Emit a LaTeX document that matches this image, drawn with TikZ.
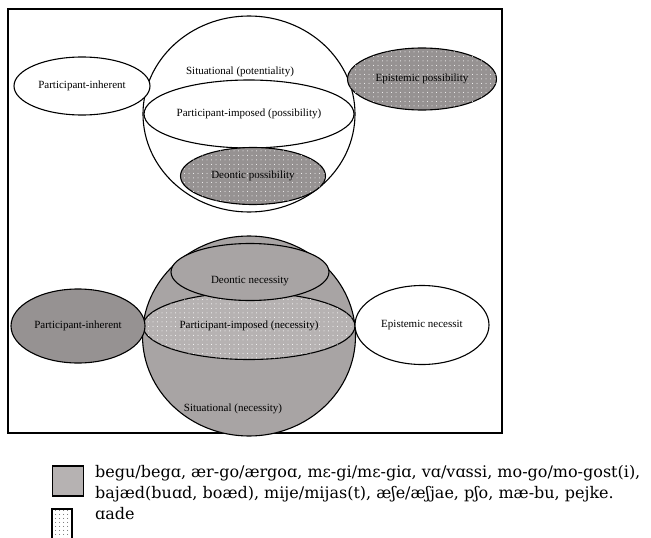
\documentclass[tikz,border=0pt]{standalone}
\usepackage{fontspec}
\setmainfont{Liberation Serif}
\newfontfamily\legendfont{DejaVu Serif}
\usetikzlibrary{positioning,shapes.geometric,patterns.meta}

\definecolor{shade}{RGB}{168,164,164}
\definecolor{lightshade}{RGB}{182,178,178}
\definecolor{darkshade}{RGB}{150,146,146}

\begin{document}
\begin{tikzpicture}[x=1pt,y=-1pt,
    region/.style={ellipse,draw,line width=1.1pt,inner sep=0pt},
    dotfill/.style={postaction={pattern={Dots[distance=4.5pt,radius=0.5pt]},pattern color=white}},
    lbl/.style={font=\fontsize{11}{13}\selectfont},
    key/.style={draw=black,inner sep=0pt},
    keytxt/.style={anchor=base west,inner sep=0pt,font=\legendfont\fontsize{16}{21}\selectfont}]
  \clip (0,0) rectangle (651,538);
  \fill[white] (0,0) rectangle (651,538);
  \draw[line width=1.6pt] (8,9) rectangle (502,433);

  % possibility
  \node[region,fill=white,minimum width=212,minimum height=196] (sitpos) at (249,114) {};
  \node[lbl] (sitposlbl) at (240,72) {Situational (potentiality)};
  \node[region,lbl,minimum width=210,minimum height=68] (imppos) at (249,114) {Participant-imposed (possibility)};
  \node[region,lbl,fill=darkshade,dotfill,minimum width=145,minimum height=57] (deopos) at (253,176) {Deontic possibility};
  \node[region,lbl,fill=white,minimum width=136,minimum height=58] (inhpos) at (82,86) {Participant-inherent};
  \node[region,lbl,fill=darkshade,dotfill,minimum width=149,minimum height=62] (epipos) at (422,79) {Epistemic possibility};

  % necessity
  \node[region,fill=shade,minimum width=213,minimum height=200] (sitnec) at (249,336) {};
  \node[region,lbl,fill=lightshade,dotfill,minimum width=212,minimum height=67] (impnec) at (249,326) {Participant-imposed (necessity)};
  \node[region,fill=shade,minimum width=158,minimum height=57] (deonec) at (250,272) {};
  \node[lbl] (deoneclbl) at (250,281) {Deontic necessity};
  \node[lbl] (sitneclbl) at (233,409) {Situational (necessity)};
  \node[region,lbl,fill=darkshade,minimum width=134,minimum height=74] (inhnec) at (78,326) {Participant-inherent};
  \node[region,lbl,fill=white,minimum width=134,minimum height=79] (epinec) at (422,325) {Epistemic necessit};

  % key
  \node[key,line width=1.8pt,fill=lightshade,minimum width=31,minimum height=30] (keyshade) at (68,481) {};
  \node[key,line width=1.3pt,postaction={pattern={Dots[distance=4pt,radius=0.5pt]},pattern color=black},
        minimum width=20,minimum height=34] (keydots) at (62,526) {};
  \node[keytxt] (keyline1) at (95,477) {begu/begɑ, ær-go/ærgoɑ, mɛ-gi/mɛ-giɑ, vɑ/vɑssi, mo-go/mo-gost(i),};
  \node[keytxt] (keyline2) at (95,498) {bajæd(buɑd, boæd), mije/mijas(t), æʃe/æʃjae, pʃo, mæ-bu, pejke.};
  \node[keytxt] (keydotstxt) at (95,519) {ɑade};
\end{tikzpicture}
\end{document}
